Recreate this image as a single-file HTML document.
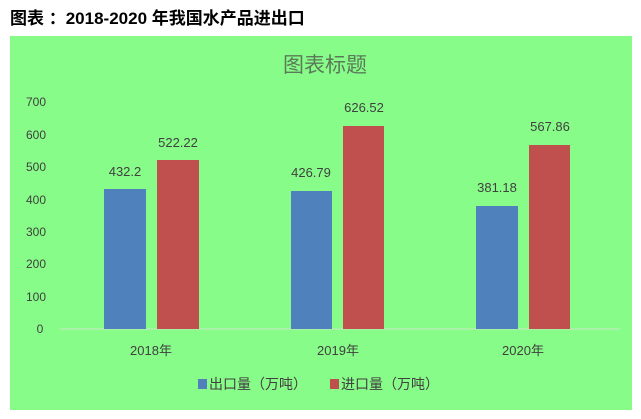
<!DOCTYPE html><html><head><meta charset="utf-8"><style>body{margin:0;width:641px;height:414px;background:#fff;overflow:hidden}</style></head><body>
<svg width="641" height="414" xmlns="http://www.w3.org/2000/svg" font-family="Liberation Sans, Noto Sans CJK SC, sans-serif">
<text x="10" y="24" font-size="17" font-weight="bold" fill="#000" font-family="Liberation Sans, Noto Sans CJK SC, sans-serif">图表 ：2018-2020 年我国水产品进出口</text>
<rect x="10" y="36" width="622" height="374" fill="#88fc88"/>
<text x="325" y="72" font-size="21" fill="#5a7a5a" text-anchor="middle">图表标题</text>
<g font-size="12" fill="#404040" text-anchor="middle">
<text x="36" y="106">700</text><text x="36" y="139">600</text><text x="36" y="171">500</text><text x="36" y="204">400</text><text x="36" y="236">300</text><text x="36" y="268">200</text><text x="36" y="301">100</text><text x="40" y="333">0</text>
</g>
<line x1="60" y1="329" x2="620" y2="329" stroke="#c8e8c8" stroke-width="1"/>
<g fill="#4f81bd"><rect x="104" y="189" width="42" height="140"/><rect x="291" y="191" width="41" height="138"/><rect x="476" y="206" width="42" height="123"/></g>
<g fill="#c0504d"><rect x="157" y="160" width="42" height="169"/><rect x="343" y="126" width="41" height="203"/><rect x="529" y="145" width="41" height="184"/></g>
<g font-size="13" fill="#404040" text-anchor="middle">
<text x="125" y="176">432.2</text><text x="178" y="147">522.22</text>
<text x="311" y="177">426.79</text><text x="364" y="112">626.52</text>
<text x="497" y="192">381.18</text><text x="550" y="131">567.86</text>
<text x="151" y="355">2018年</text><text x="338" y="355">2019年</text><text x="523" y="355">2020年</text>
</g>
<rect x="198" y="379" width="9" height="10" fill="#4f81bd"/>
<text x="209" y="389" font-size="14" fill="#404040">出口量（万吨）</text>
<rect x="330" y="379" width="9" height="10" fill="#c0504d"/>
<text x="341" y="389" font-size="14" fill="#404040">进口量（万吨）</text>
</svg></body></html>
